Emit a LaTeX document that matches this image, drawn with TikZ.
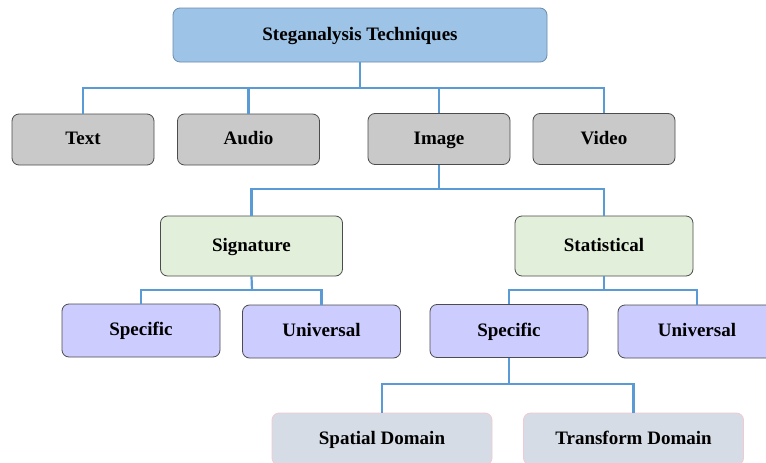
\documentclass[tikz,border=0pt]{standalone}
\usepackage{fontspec}
\setmainfont{Liberation Serif}
\begin{document}
\begin{tikzpicture}[x=1pt,y=-1pt,
  box/.style={draw=black!70, line width=0.8pt, rounded corners=7pt, font=\bfseries\fontsize{19}{22}\selectfont, inner sep=0pt, text height=1.0em, text depth=0em},
  top/.style={box, fill=topblue, draw=topedge},
  gray/.style={box, fill=boxgray, minimum width=142pt, minimum height=51pt},
  green/.style={box, fill=boxgreen, minimum width=182pt, minimum height=60pt},
  purple/.style={box, fill=boxpurple, minimum width=158pt, minimum height=53pt},
  slate/.style={box, fill=boxslate, draw=pinkedge, minimum width=220pt, minimum height=52pt},
  conn/.style={draw=connblue, line width=2.2pt, line join=miter}]
\definecolor{topblue}{HTML}{9DC3E6}
\definecolor{topedge}{HTML}{6A8CAF}
\definecolor{boxgray}{HTML}{C9C9C9}
\definecolor{boxgreen}{HTML}{E2EFDA}
\definecolor{boxpurple}{HTML}{CCCCFF}
\definecolor{boxslate}{HTML}{D6DCE5}
\definecolor{pinkedge}{HTML}{F2C9D0}
\definecolor{connblue}{HTML}{5B9BD5}
\clip (0,0) rectangle (766,463);
\fill[white] (0,0) rectangle (766,463);

\node[top, minimum width=374pt, minimum height=54pt] (root) at (360,35) {Steganalysis Techniques};
\node[gray] (text) at (83,139.5) {Text};
\node[gray] (audio) at (248.5,139.5) {Audio};
\node[gray] (image) at (439,139) {Image};
\node[gray] (video) at (604,139) {Video};
\node[green] (sig) at (251.5,246) {Signature};
\node[green, minimum width=178pt] (stat) at (604,246) {Statistical};
\node[purple] (spec1) at (141,330.5) {Specific};
\node[purple] (univ1) at (321.5,331.5) {Universal};
\node[purple] (spec2) at (509,331) {Specific};
\node[purple] (univ2) at (697,331.5) {Universal};
\node[slate] (spatial) at (382,439) {Spatial Domain};
\node[slate] (transform) at (633.5,439) {Transform Domain};

\coordinate (j0) at (360,88);
\coordinate (j1) at (439,189);
\coordinate (j2) at (252,290);
\coordinate (j3) at (604,290);
\coordinate (j4) at (509,384);

\draw[conn] (root.south) -- (j0);
\draw[conn] (text.north) |- (j0) -| (video.north);
\draw[conn] (audio.north) -- (audio.north |- j0);
\draw[conn] (image.north) -- (image.north |- j0);
\draw[conn] (image.south) -- (j1);
\draw[conn] (sig.north) |- (j1) -| (stat.north);
\draw[conn] (sig.south) -- (j2);
\draw[conn] (spec1.north) |- (j2) -| (univ1.north);
\draw[conn] (stat.south) -- (j3);
\draw[conn] (spec2.north) |- (j3) -| (univ2.north);
\draw[conn] (spec2.south) -- (j4);
\draw[conn] (spatial.north) |- (j4) -| (transform.north);
\end{tikzpicture}
\end{document}
